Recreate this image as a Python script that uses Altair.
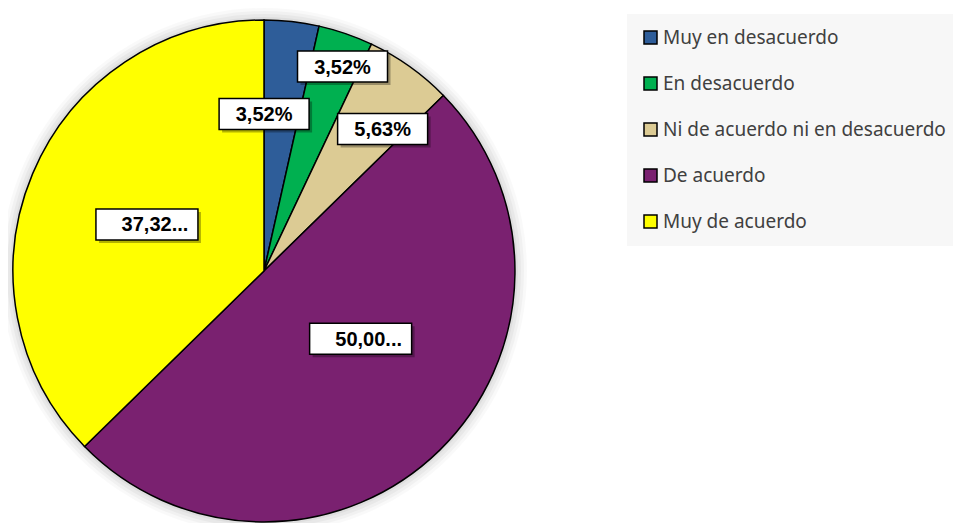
import altair as alt
import pandas as pd

# ---- data ----
categories = ["Muy en desacuerdo", "En desacuerdo", "Ni de acuerdo ni en desacuerdo",
              "De acuerdo", "Muy de acuerdo"]
percentages = [3.52, 3.52, 5.63, 50.00, 37.32]
label_texts = ["3,52%", "3,52%", "5,63%", "50,00...", "37,32..."]
colors = ["#2E5D99", "#00B050", "#DCCB94", "#7A2170", "#FFFF00"]

# ---- label layout (placement only) ----
label_radius = [157, 219, 185, 118, 126]
label_angle_shift = [-6.3, 2.0, 4.4, -10.6, -1.1]
box_width = [90, 90, 90, 102, 102]
text_shift = [0, 0, 0, 8, 8]

CX, CY, R = 256, 263, 251
BOX_H = 31

df = pd.DataFrame({
    "cat": categories,
    "pct": percentages,
    "label": label_texts,
    "idx": list(range(len(categories))),
    "lr": label_radius,
    "shift": label_angle_shift,
    "bw": box_width,
    "ts": text_shift,
})

base = alt.Chart(df)
color_scale = alt.Scale(domain=categories, range=colors)

# soft halo behind pie
one = pd.DataFrame({"k": [0]})
halo_layers = []
for extra, op in [(12, 0.025), (9, 0.03), (6, 0.035), (3, 0.04)]:
    halo_layers.append(
        alt.Chart(one).mark_arc(theta=0, theta2=6.2832, radius=R + extra,
                                fill="#000000", fillOpacity=op).encode(
            x=alt.value(CX), y=alt.value(CY)
        )
    )

pie = base.mark_arc(stroke="black", strokeWidth=1.5, radius=R).encode(
    theta=alt.Theta("pct:Q", stack=True),
    order=alt.Order("idx:Q"),
    color=alt.Color("cat:N", scale=color_scale, sort=categories,
                    legend=alt.Legend(title=None)),
    x=alt.value(CX), y=alt.value(CY),
)

pos = base.transform_window(
    cum="sum(pct)", sort=[alt.SortField("idx")]
).transform_joinaggregate(
    total="sum(pct)"
).transform_calculate(
    ang="((datum.cum - datum.pct/2)/datum.total*360 + datum.shift) * PI / 180"
).transform_calculate(
    lx=f"{CX} + datum.lr*sin(datum.ang)",
    ly=f"{CY} - datum.lr*cos(datum.ang)",
).transform_calculate(
    x1="datum.lx - datum.bw/2", x2="datum.lx + datum.bw/2",
    y1=f"datum.ly - {BOX_H/2}", y2=f"datum.ly + {BOX_H/2}",
    tx="datum.lx + datum.ts",
    sx1="datum.x1 + 3", sx2="datum.x2 + 3", sy1="datum.y1 + 3", sy2="datum.y2 + 3",
)

box_shadow = pos.mark_rect(fill="#000000", opacity=0.3).encode(
    x=alt.X("sx1:Q", scale=None), x2="sx2:Q",
    y=alt.Y("sy1:Q", scale=None), y2="sy2:Q",
)
boxes = pos.mark_rect(fill="white", stroke="black", strokeWidth=1.5).encode(
    x=alt.X("x1:Q", scale=None), x2="x2:Q",
    y=alt.Y("y1:Q", scale=None), y2="y2:Q",
)
texts = pos.mark_text(font="Liberation Sans", fontWeight="bold", fontSize=20,
                      color="black", align="center", baseline="middle", dy=1).encode(
    x=alt.X("tx:Q", scale=None), y=alt.Y("ly:Q", scale=None), text="label:N"
)

chart = alt.layer(*halo_layers, pie, box_shadow, boxes, texts).properties(
    width=945, height=515,
    autosize=alt.AutoSizeParams(type="none"),
    padding=0,
    background="white",
).configure_view(stroke=None).configure_legend(
    orient="none", legendX=619, legendY=6,
    fillColor="#F7F7F7", padding=14,
    symbolType="square", symbolSize=169, symbolStrokeColor="black",
    symbolStrokeWidth=1.5, symbolOpacity=1,
    labelFont="Noto Sans", labelFontSize=19, labelColor="#404040",
    labelOffset=3, rowPadding=26, labelLimit=400,
)

chart.save("out.html", embed_options={"renderer": "svg", "actions": False})
